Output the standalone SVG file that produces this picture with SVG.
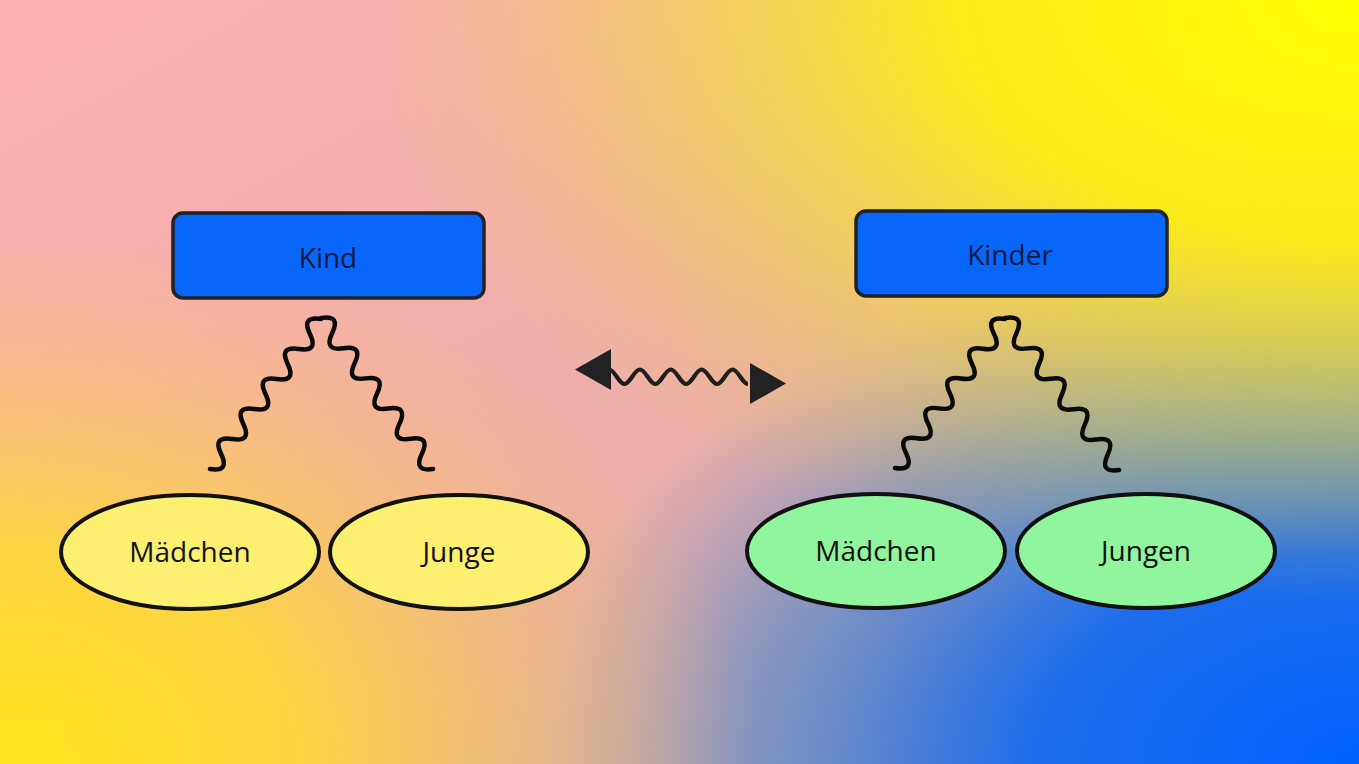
<svg xmlns="http://www.w3.org/2000/svg" width="1359" height="764" viewBox="0 0 1359 764">
<defs>
<linearGradient id="bgBase" x1="0" y1="0" x2="1" y2="1">
<stop offset="0" stop-color="#ffb2b6"/>
<stop offset="0.5" stop-color="#eeaeaa"/>
<stop offset="1" stop-color="#c0a0b8"/>
</linearGradient>
<radialGradient id="bBR" gradientUnits="userSpaceOnUse" cx="0" cy="0" r="1" gradientTransform="translate(1359 764) scale(830 530)">
<stop offset="0" stop-color="#0060ff" stop-opacity="1"/>
<stop offset="0.4" stop-color="#1068f0" stop-opacity="0.92"/>
<stop offset="0.75" stop-color="#2a80d0" stop-opacity="0.45"/>
<stop offset="1" stop-color="#5090c0" stop-opacity="0"/>
</radialGradient>
<radialGradient id="yTR" gradientUnits="userSpaceOnUse" cx="0" cy="0" r="1" gradientTransform="translate(1359 0) scale(1000 600)">
<stop offset="0" stop-color="#ffff00" stop-opacity="1"/>
<stop offset="0.4" stop-color="#fff500" stop-opacity="0.85"/>
<stop offset="0.75" stop-color="#f0e030" stop-opacity="0.38"/>
<stop offset="1" stop-color="#e8d040" stop-opacity="0"/>
</radialGradient>
<radialGradient id="yBL" gradientUnits="userSpaceOnUse" cx="0" cy="0" r="1" gradientTransform="translate(0 764) scale(760 540)">
<stop offset="0" stop-color="#ffe41a" stop-opacity="1"/>
<stop offset="0.4" stop-color="#ffdc30" stop-opacity="0.85"/>
<stop offset="0.75" stop-color="#ffcc50" stop-opacity="0.35"/>
<stop offset="1" stop-color="#ffc060" stop-opacity="0"/>
</radialGradient>
<style>
.box{fill:#0866fa;stroke:#222;stroke-width:3.5}
.ey{fill:#fdf071;stroke:#111;stroke-width:4}
.eg{fill:#90f59c;stroke:#111;stroke-width:4}
.lbl{font-family:"Open Sans","Noto Sans",sans-serif;font-size:28px;text-anchor:middle;fill:#111}
.blbl{fill:#0d1a40}
.wave{fill:none;stroke:#0a0a0a;stroke-width:4.5;stroke-linecap:round;stroke-linejoin:round}
.wave2{fill:none;stroke:#1e1e1e;stroke-width:4.2}
.head{fill:#222}
</style>
</defs>
<g id="background">
<rect x="0" y="0" width="1359" height="764" fill="url(#bgBase)"/>
<rect x="0" y="0" width="1359" height="764" fill="url(#bBR)"/>
<rect x="0" y="0" width="1359" height="764" fill="url(#yTR)"/>
<rect x="0" y="0" width="1359" height="764" fill="url(#yBL)"/>
</g>
<g id="connectors">
<path class="wave" transform="translate(210 469) rotate(-53.5)" d="M0,0 q9.33,18 18.66,0 t18.66,0 t18.66,0 t18.66,0 t18.66,0 t18.66,0 t18.66,0 t18.66,0 t18.66,0 t18.66,0"/>
<path class="wave" transform="translate(321 318) rotate(53.4)" d="M0,0 q9.4,-18 18.8,0 t18.8,0 t18.8,0 t18.8,0 t18.8,0 t18.8,0 t18.8,0 t18.8,0 t18.8,0 t18.8,0"/>
<path class="wave" transform="translate(895 468) rotate(-53.6)" d="M0,0 q9.26,18 18.52,0 t18.52,0 t18.52,0 t18.52,0 t18.52,0 t18.52,0 t18.52,0 t18.52,0 t18.52,0 t18.52,0"/>
<path class="wave" transform="translate(1005 318) rotate(53.1)" d="M0,0 q9.5,-18 19,0 t19,0 t19,0 t19,0 t19,0 t19,0 t19,0 t19,0 t19,0 t19,0"/>
<g id="double-arrow">
<path class="wave2" d="M609,369.5 c5.6,0 9.84,14.5 15.44,14.5 s9.84,-14.5 15.44,-14.5 s9.84,14.5 15.44,14.5 s9.84,-14.5 15.44,-14.5 s9.84,14.5 15.44,14.5 s9.84,-14.5 15.44,-14.5 s9.84,14.5 15.44,14.5 s9.84,-14.5 15.44,-14.5 s9.84,14.5 15.44,14.5"/>
<polygon class="head" points="575,369.5 611,349 611,390"/>
<polygon class="head" points="786,383.5 750,363 750,404"/>
</g>
</g>
<g id="node-kind">
<rect class="box" x="173" y="213" width="311" height="85" rx="10"/>
<text class="lbl blbl" x="328" y="268">Kind</text>
</g>
<g id="node-kinder">
<rect class="box" x="856" y="211" width="311" height="85" rx="10"/>
<text class="lbl blbl" x="1010" y="265">Kinder</text>
</g>
<g id="node-maedchen-1">
<ellipse class="ey" cx="190" cy="552" rx="129" ry="57"/>
<text class="lbl" x="190" y="562">Mädchen</text>
</g>
<g id="node-junge">
<ellipse class="ey" cx="459" cy="552" rx="129" ry="57"/>
<text class="lbl" x="459" y="562">Junge</text>
</g>
<g id="node-maedchen-2">
<ellipse class="eg" cx="876" cy="551" rx="129" ry="57"/>
<text class="lbl" x="876" y="561">Mädchen</text>
</g>
<g id="node-jungen">
<ellipse class="eg" cx="1146" cy="551" rx="129" ry="57"/>
<text class="lbl" x="1146" y="561">Jungen</text>
</g>
</svg>
